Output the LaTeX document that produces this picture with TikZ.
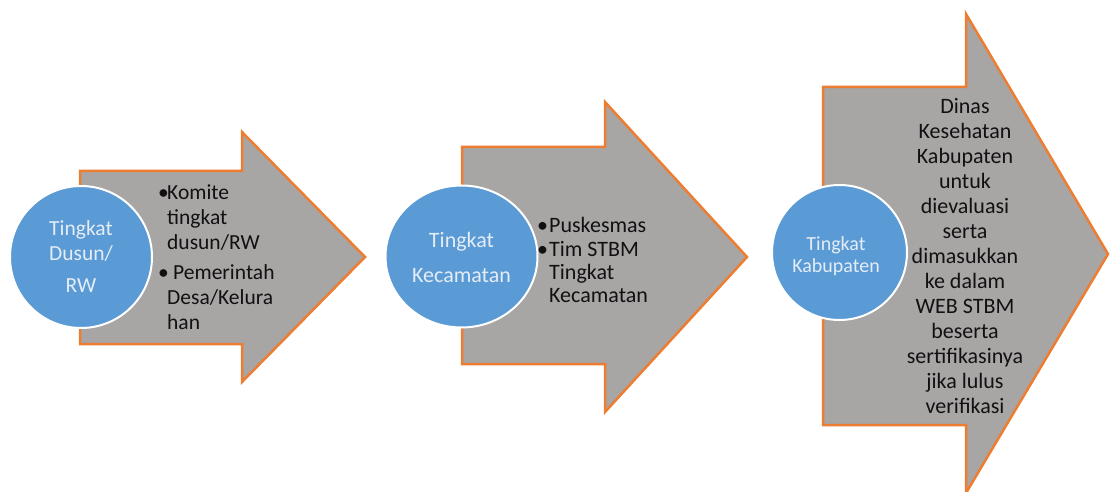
\documentclass[tikz,border=0pt]{standalone}
\usepackage{fontspec}
\setmainfont{Carlito}
\usetikzlibrary{shapes.geometric}
\definecolor{arrowgray}{HTML}{A8A5A5}
\definecolor{arroworange}{HTML}{ED7D31}
\definecolor{stageblue}{HTML}{5B9BD5}
\definecolor{stagetext}{HTML}{E4ECF6}
\definecolor{bodytext}{HTML}{111111}
\newcommand\stk[2]{\vtop{\baselineskip=#1\lineskiplimit=-100pt\relax #2}}
\newcommand\ctr[1]{\hbox to 0pt{\hss #1\hss}}
\newcommand\lft[1]{\hbox{#1}}
\newcommand\bul{\makebox[9pt][l]{\textbullet}}
\begin{document}
\begin{tikzpicture}[x=1pt,y=-1pt,
  arrowshape/.style={fill=arrowgray, draw=arroworange, line width=2.5pt, line join=miter},
  stage/.style={fill=stageblue, draw=white, line width=2pt, inner sep=0pt},
  stagelabel/.style={anchor=base, inner sep=0pt, text=stagetext},
  bodylabel/.style={inner sep=0pt, text=bodytext}]
\useasboundingbox (0,0) rectangle (1112,492);

% arrows
\draw[arrowshape] (80,171) -- (242,171) -- (242,132) -- (365,257) -- (242,382) -- (242,344) -- (80,344) -- cycle;
\draw[arrowshape] (462,147) -- (605,147) -- (605,102) -- (747,257) -- (605,412) -- (605,364) -- (462,364) -- cycle;
\draw[arrowshape] (823,87) -- (966,87) -- (966,14) -- (1108,254) -- (966,493) -- (966,425) -- (823,425) -- cycle;

% circles
\node[stage, circle, minimum size=142pt] (c1) at (81,257) {};
\node[stage, ellipse, minimum width=152pt, minimum height=142pt] (c2) at (461.5,256.5) {};
\node[stage, circle, minimum size=135pt] (c3) at (839.5,252.5) {};

% circle labels
\node[stagelabel, font=\fontsize{21.5}{25.7}\selectfont] (l1) at (81,235)
  {\stk{25.7pt}{\ctr{Tingkat}\ctr{Dusun/}\vskip6.6pt\ctr{RW}}};
\node[stagelabel, font=\fontsize{22}{35}\selectfont] (l2) at (461.5,247.5)
  {\stk{35pt}{\ctr{Tingkat}\ctr{Kecamatan}}};
\node[stagelabel, font=\fontsize{20}{22}\selectfont] (l3) at (836,251)
  {\stk{22pt}{\ctr{Tingkat}\ctr{Kabupaten}}};

% arrow texts
\node[bodylabel, anchor=base west, font=\fontsize{21.5}{25}\selectfont] (b1) at (158,200)
  {\stk{25pt}{\lft{\bul Komite}\lft{\hspace*{9pt}tingkat}\lft{\hspace*{9pt}dusun/RW}\vskip5pt
   \lft{\bul\hspace*{6pt}Pemerintah}\lft{\hspace*{9pt}Desa/Kelura}\lft{\hspace*{9pt}han}}};
\node[bodylabel, anchor=base west, font=\fontsize{22}{23.3}\selectfont] (b2) at (537,233)
  {\stk{23.3pt}{\lft{\bul\hspace*{3pt}Puskesmas}\lft{\bul\hspace*{3pt}Tim STBM}\lft{\hspace*{12pt}Tingkat}\lft{\hspace*{12pt}Kecamatan}}};
\node[bodylabel, anchor=base, font=\fontsize{22}{25}\selectfont] (b3) at (965,113.5)
  {\stk{25pt}{\ctr{Dinas}\ctr{Kesehatan}\ctr{Kabupaten}\ctr{untuk}\ctr{dievaluasi}\ctr{serta}\ctr{dimasukkan}\ctr{ke dalam}\ctr{WEB STBM}\ctr{beserta}\ctr{sertifikasinya}\ctr{jika lulus}\ctr{verifikasi}}};
\end{tikzpicture}
\end{document}
